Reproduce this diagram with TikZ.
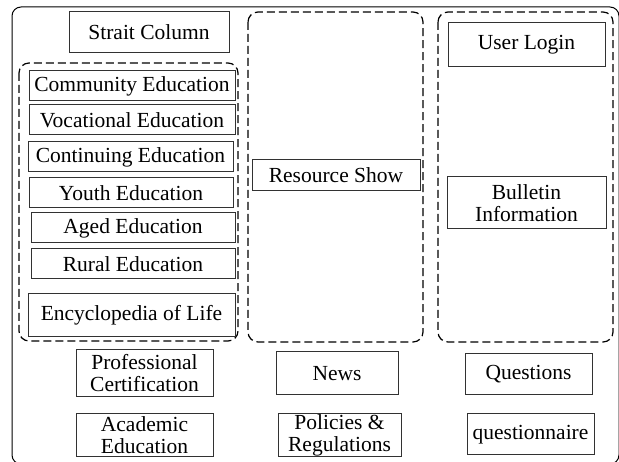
\documentclass[tikz,border=0pt]{standalone}
\usepackage{fontspec}
\setmainfont{Liberation Serif}
\usepackage{tikz}
\usetikzlibrary{calc}
\definecolor{edge}{RGB}{50,50,50}
\tikzstyle{item} = [rectangle, draw=edge, line width=1pt, inner sep=0pt,
align=center, font=\fontsize{21.5}{22}\selectfont]
\tikzstyle{group} = [draw=black, line width=1.2pt, dash pattern=on 8pt off 4pt,
rounded corners=10pt]
\tikzstyle{frame} = [draw=black, line width=1pt, rounded corners=9pt]

\begin{document}
\begin{tikzpicture}[x=1pt, y=-1pt]
	\useasboundingbox (0,0) rectangle (619,462);
	\clip (0,0) rectangle (619,462);
	% outer frame
	\path [frame] (12,7) rectangle (619,464);
	% Place groups
	\path [group] (19,63) rectangle (238,341);
	\path [group] (248,12) rectangle (423,342);
	\path [group] (438,12) rectangle (613,342);
	% left column
	\node [item, minimum width=160pt, minimum height=41pt] (strait) at (149,32.5) {Strait Column};
	\node [item, minimum width=206pt, minimum height=30pt] (community) at (132,86) {Community Education};
	\node [item, minimum width=206pt, minimum height=30pt] (vocational) at (132,120) {Vocational Education};
	\node [item, minimum width=205pt, minimum height=30pt] (continuing) at (130.5,157) {Continuing Education};
	\node [item, minimum width=204pt, minimum height=30pt] (youth) at (131,193) {Youth Education};
	\node [item, minimum width=204pt, minimum height=30pt] (aged) at (133,228) {Aged Education};
	\node [item, minimum width=204pt, minimum height=30pt] (rural) at (133,264) {Rural Education};
	\node [item, minimum width=207pt, minimum height=43pt] (encyclopedia) at (131.5,315.5) {Encyclopedia of Life};
	% middle column
	\node [item, minimum width=168pt, minimum height=31pt] (resource) at (336,175.5) {Resource Show};
	% right column
	\node [item, minimum width=157pt, minimum height=44pt] (login) at (526.5,45) {User Login};
	\node [item, minimum width=159pt, minimum height=52pt] (bulletin) at (526.5,203) {Bulletin\\Information};
	%
	% bottom rows
	\node [item, minimum width=137pt, minimum height=47pt] (professional) at (144.5,373.5) {Professional\\Certification};
	\node [item, minimum width=137pt, minimum height=43pt] (academic) at (144.5,435.5) {Academic\\Education};
	\node [item, minimum width=122pt, minimum height=43pt] (news) at (337,373.5) {News};
	\node [item, minimum width=123pt, minimum height=43pt] (policies) at (339.5,435.5) {Policies \&\\Regulations};
	\node [item, minimum width=127pt, minimum height=41pt] (questions) at (528.5,374.5) {Questions};
	\node [item, minimum width=127pt, minimum height=41pt] (questionnaire) at (530.5,434.5) {questionnaire};
\end{tikzpicture}
\end{document}
